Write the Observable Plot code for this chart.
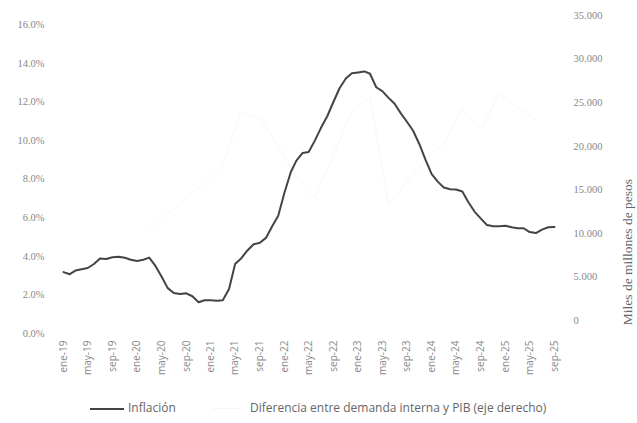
<!DOCTYPE html>
<html>
<head>
<meta charset="utf-8">
<script src="https://cdn.jsdelivr.net/npm/d3@7"></script>
<script src="https://cdn.jsdelivr.net/npm/@observablehq/plot@0.6"></script>
<style>
  html, body { margin: 0; padding: 0; background: #fff; }
  #wrap { width: 637px; }
  #legend { position: relative; width: 637px; height: 31px; font-family: "Open Sans", "DejaVu Sans", sans-serif; font-size: 12px; color: #666; }
  #legend .sw { position: absolute; height: 0; }
  #legend .tx { position: absolute; white-space: nowrap; line-height: 14px; }
</style>
</head>
<body>
<div id="wrap"></div>
<script>
// ---- data ----
const monthNames = ["ene","feb","mar","abr","may","jun","jul","ago","sep","oct","nov","dic"];
const startYear = 2019;
// Inflación anual (%), mensual ene-19 ... sep-25
const inflation = [
  3.18, 3.07, 3.26, 3.33, 3.39, 3.60, 3.88, 3.86, 3.95, 3.97, 3.92, 3.82,
  3.75, 3.82, 3.93, 3.50, 2.95, 2.35, 2.10, 2.04, 2.08, 1.93, 1.62, 1.72,
  1.72, 1.70, 1.72, 2.30, 3.60, 3.90, 4.30, 4.62, 4.70, 4.95, 5.55, 6.10,
  7.30, 8.35, 8.95, 9.35, 9.40, 10.00, 10.65, 11.25, 12.00, 12.70, 13.20, 13.47,
  13.52, 13.57, 13.45, 12.75, 12.55, 12.20, 11.90, 11.40, 10.95, 10.50, 9.80, 9.00,
  8.25, 7.85, 7.56, 7.47, 7.46, 7.35, 6.80, 6.30, 5.95, 5.62, 5.55, 5.55,
  5.58, 5.50, 5.45, 5.45, 5.25, 5.20, 5.38, 5.50, 5.52
];
// Diferencia entre demanda interna y PIB (miles de millones), trimestral, barely visible in the chart
const diffMonthIdx = [14, 17, 20, 23, 26, 29, 32, 35, 38, 41, 44, 47, 50, 53, 56, 59, 62, 65, 68, 71, 74, 77];
const diffValues   = [10500, 12300, 14000, 15800, 17800, 24000, 23200, 20000, 16500, 14100, 19000, 24000, 25600, 13300, 16000, 18500, 20300, 24300, 22000, 26000, 24500, 23000];
const tickMonthIdx = [0,4,8,12,16,20,24,28,32,36,40,44,48,52,56,60,64,68,72,76,80];
const leftTicks = [0, 2, 4, 6, 8, 10, 12, 14, 16];
const rightTicks = [0, 5000, 10000, 15000, 20000, 25000, 30000, 35000];
const seriesNames = ["Inflación", "Diferencia entre demanda interna y PIB (eje derecho)"];
const rightTitle = "Miles de millones de pesos";

// ---- helpers ----
const dateOf = i => new Date(Date.UTC(startYear, i, 1));
const labelOf = d => monthNames[d.getUTCMonth()] + "-" + String(d.getUTCFullYear() % 100).padStart(2, "0");
// right axis mapped onto left scale (the two axes are slightly offset in the original)
const toLeft = v => 0.67 + v * 15.8 / 35000;
const fmtThousands = v => v === 0 ? "0" : d3.format(",")(v).replace(/,/g, ".");

const inflData = inflation.map((v, i) => ({date: dateOf(i), value: v}));
const diffData = diffValues.map((v, i) => ({date: dateOf(diffMonthIdx[i]), value: toLeft(v)}));

const serif = "'Liberation Serif', 'DejaVu Serif', serif";
const sans = "'Open Sans', 'DejaVu Sans', sans-serif";

const chart = Plot.plot({
  width: 637,
  height: 392,
  marginLeft: 63,
  marginRight: 83,
  marginTop: 24,
  marginBottom: 59,
  style: {fontFamily: sans, fontSize: "10px", color: "#888", background: "#fff"},
  x: {type: "utc", domain: [dateOf(0), dateOf(80)]},
  y: {domain: [0, 16]},
  marks: [
    Plot.axisY(leftTicks, {
      anchor: "left", tickSize: 0, tickPadding: 19, label: null,
      tickFormat: d => d.toFixed(1) + "%",
      fontFamily: serif, fontSize: 10.5, fill: "#888"
    }),
    Plot.axisX(tickMonthIdx.map(dateOf), {
      anchor: "bottom", tickSize: 0, tickPadding: 7, tickRotate: -90, label: null,
      tickFormat: labelOf, fontSize: 10, fill: "#888"
    }),
    Plot.text(rightTicks, {
      y: d => toLeft(d), text: d => fmtThousands(d),
      frameAnchor: "right", dx: 19, textAnchor: "start",
      fontFamily: serif, fontSize: 10.5, fill: "#888"
    }),
    Plot.text([rightTitle], {
      text: d => d, frameAnchor: "right", dx: 73, rotate: -90,
      fontFamily: serif, fontSize: 13.5, fill: "#666"
    }),
    Plot.line(diffData, {x: "date", y: "value", stroke: "#f7f7f7", strokeWidth: 1}),
    Plot.line(inflData, {x: "date", y: "value", stroke: "#444", strokeWidth: 2, curve: "linear"})
  ]
});

const wrap = document.getElementById("wrap");
wrap.appendChild(chart);

const legend = document.createElement("div");
legend.id = "legend";
legend.innerHTML =
  `<span class="sw" style="left:90px;top:16px;width:34px;border-top:2px solid #444"></span>` +
  `<span class="tx" style="left:128px;top:9px">${seriesNames[0]}</span>` +
  `<span class="sw" style="left:212px;top:16px;width:30px;border-top:1px solid #f7f7f7"></span>` +
  `<span class="tx" style="left:250px;top:9px">${seriesNames[1]}</span>`;
wrap.appendChild(legend);
</script>
</body>
</html>
